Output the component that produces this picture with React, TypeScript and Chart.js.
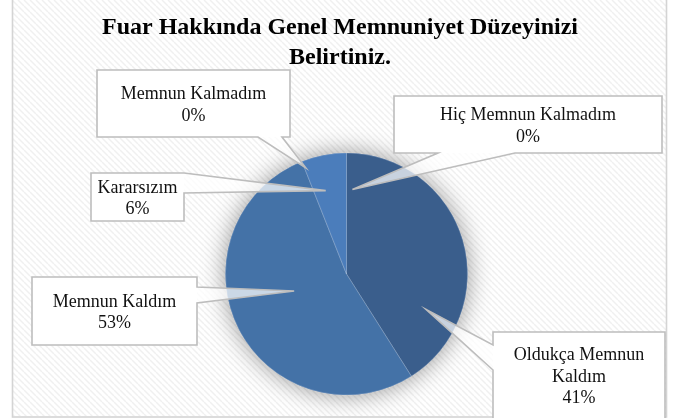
import { useEffect, useRef } from "react";
import { Chart, registerables } from "chart.js";

Chart.register(...registerables);

const titleLines = ["Fuar Hakkında Genel Memnuniyet Düzeyinizi", "Belirtiniz."];
const categories = [
  "Hiç Memnun Kalmadım",
  "Oldukça Memnun Kaldım",
  "Memnun Kaldım",
  "Kararsızım",
  "Memnun Kalmadım",
];
const categoryLines = [
  ["Hiç Memnun Kalmadım"],
  ["Oldukça Memnun", "Kaldım"],
  ["Memnun Kaldım"],
  ["Kararsızım"],
  ["Memnun Kalmadım"],
];
const percentages = [0, 41, 53, 6, 0];
const sliceColors = ["#3A5E8C", "#3A5E8C", "#4472A7", "#4B7DBB", "#4F82C0"];

// callout box layout (pixels) and pointer tip (angle from 12 o'clock, fraction of radius)
const calloutLayout = [
  { x: 394, y: 96, w: 268, h: 57, side: "bottom", a: 438, b: 515, tipAngle: 4, tipFrac: 0.7 },
  { x: 493, y: 332, w: 172, h: 95, side: "left", a: 345, b: 370, tipAngle: 114, tipFrac: 0.72 },
  { x: 32, y: 277, w: 165, h: 68, side: "right", a: 287, b: 303, tipAngle: 252, tipFrac: 0.455 },
  { x: 91, y: 173, w: 93, h: 48, side: "right", a: 173, b: 193, tipAngle: 346, tipFrac: 0.71 },
  { x: 97, y: 70, w: 193, h: 67, side: "bottom", a: 258, b: 282, tipAngle: 339, tipFrac: 0.94 },
];

function calloutPath(ctx: CanvasRenderingContext2D, L: any, tx: number, ty: number) {
  const x0 = L.x, y0 = L.y, x1 = L.x + L.w, y1 = L.y + L.h;
  const lo = Math.min(L.a, L.b), hi = Math.max(L.a, L.b);
  ctx.beginPath();
  ctx.moveTo(x0, y0);
  if (L.side === "top") { ctx.lineTo(lo, y0); ctx.lineTo(tx, ty); ctx.lineTo(hi, y0); }
  ctx.lineTo(x1, y0);
  if (L.side === "right") { ctx.lineTo(x1, lo); ctx.lineTo(tx, ty); ctx.lineTo(x1, hi); }
  ctx.lineTo(x1, y1);
  if (L.side === "bottom") { ctx.lineTo(hi, y1); ctx.lineTo(tx, ty); ctx.lineTo(lo, y1); }
  ctx.lineTo(x0, y1);
  if (L.side === "left") { ctx.lineTo(x0, hi); ctx.lineTo(tx, ty); ctx.lineTo(x0, lo); }
  ctx.closePath();
}

function makeHatch(): CanvasPattern | string {
  const c = document.createElement("canvas");
  c.width = 6; c.height = 6;
  const g = c.getContext("2d")!;
  g.fillStyle = "#FFFFFF";
  g.fillRect(0, 0, 6, 6);
  g.strokeStyle = "#F0F0F0";
  g.lineWidth = 1.5;
  for (const k of [-6, 0, 6]) {
    g.beginPath();
    g.moveTo(k, 0);
    g.lineTo(k + 6, 6);
    g.stroke();
  }
  const p = g.createPattern(c, "repeat");
  return p || "#F8F8F8";
}

const backgroundPlugin = {
  id: "bgFrame",
  beforeDraw(chart: any) {
    const ctx: CanvasRenderingContext2D = chart.ctx;
    ctx.save();
    ctx.fillStyle = "#FFFFFF";
    ctx.fillRect(0, 0, chart.width, chart.height);
    ctx.fillStyle = makeHatch() as any;
    ctx.fillRect(13, 0, 653, 416);
    ctx.strokeStyle = "#D4D4D4";
    ctx.lineWidth = 1.6;
    ctx.strokeRect(12.5, -5, 654, 422);
    // title
    ctx.fillStyle = "#000000";
    ctx.font = 'bold 24px "Liberation Serif", "Times New Roman", serif';
    ctx.textAlign = "center";
    ctx.textBaseline = "middle";
    ctx.fillText(titleLines[0], 340, 28);
    ctx.fillText(titleLines[1], 340, 58);
    ctx.restore();
  },
  beforeDatasetsDraw(chart: any) {
    const ctx: CanvasRenderingContext2D = chart.ctx;
    const arc = chart.getDatasetMeta(0).data[1];
    if (!arc) return;
    const { x, y, outerRadius } = arc.getProps(["x", "y", "outerRadius"], true);
    ctx.save();
    ctx.shadowColor = "rgba(0,0,0,0.42)";
    ctx.shadowBlur = 24;
    ctx.fillStyle = "#3F68A0";
    ctx.beginPath();
    ctx.arc(x, y, outerRadius, 0, Math.PI * 2);
    ctx.fill();
    ctx.restore();
  },
  afterDatasetsDraw(chart: any) {
    const ctx: CanvasRenderingContext2D = chart.ctx;
    const arc = chart.getDatasetMeta(0).data[1];
    if (!arc) return;
    const { x, y, outerRadius } = arc.getProps(["x", "y", "outerRadius"], true);
    ctx.save();
    calloutLayout.forEach((L, i) => {
      const th = (L.tipAngle * Math.PI) / 180;
      const tx = x + outerRadius * L.tipFrac * Math.sin(th);
      const ty = y - outerRadius * L.tipFrac * Math.cos(th);
      calloutPath(ctx, L, tx, ty);
      ctx.fillStyle = "rgba(255,255,255,0.72)";
      ctx.fill();
      ctx.fillStyle = "#FFFFFF";
      ctx.fillRect(L.x, L.y, L.w, L.h);
      calloutPath(ctx, L, tx, ty);
      ctx.strokeStyle = "#BDBDBD";
      ctx.lineWidth = 1.6;
      ctx.lineJoin = "miter";
      ctx.stroke();
      const lines = [...categoryLines[i], `${percentages[i]}%`];
      ctx.fillStyle = "#111111";
      ctx.font = '18px "Liberation Serif", "Times New Roman", serif';
      ctx.textAlign = "center";
      ctx.textBaseline = "middle";
      const lh = 21.5;
      const boxBottom = Math.min(L.y + L.h, 418);
      const cy = (L.y + boxBottom) / 2 + 2;
      const cx = L.x + L.w / 2;
      lines.forEach((t, j) => {
        ctx.fillText(t, cx, cy + (j - (lines.length - 1) / 2) * lh);
      });
    });
    ctx.restore();
  },
};

export default function App() {
  const ref = useRef<HTMLCanvasElement>(null);
  useEffect(() => {
    if (!ref.current) return;
    const chart = new Chart(ref.current, {
      type: "pie",
      data: {
        labels: categories,
        datasets: [
          {
            data: percentages,
            backgroundColor: sliceColors,
            borderColor: "rgba(255,255,255,0.22)",
            borderWidth: 1,
          },
        ],
      },
      options: {
        responsive: false,
        maintainAspectRatio: false,
        animation: false,
        layout: { padding: { left: 225, right: 212, top: 152.5, bottom: 22.5 } },
        plugins: {
          legend: { display: false },
          tooltip: { enabled: false },
          title: { display: false },
        },
      },
      plugins: [backgroundPlugin],
    });
    return () => chart.destroy();
  }, []);
  return (
    <div style={{ position: "absolute", left: 0, top: 0, width: 680, height: 418 }}>
      <canvas ref={ref} width={680} height={418} />
    </div>
  );
}
